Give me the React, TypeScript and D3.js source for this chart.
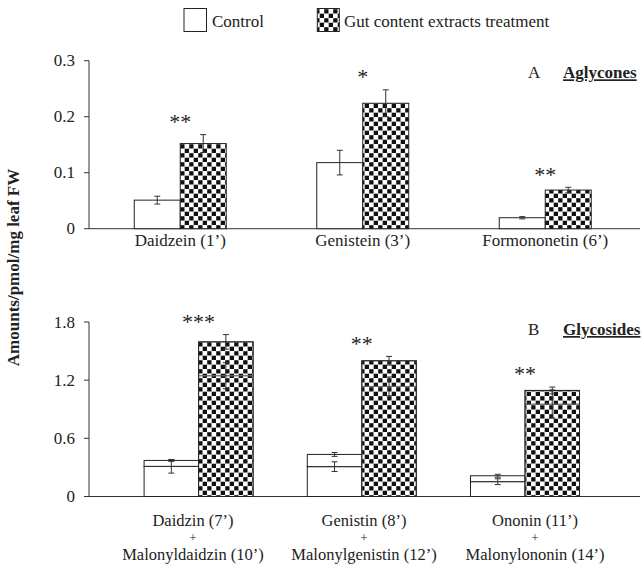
import React from 'react';
import * as d3 from 'd3';

const legendLabels = ['Control', 'Gut content extracts treatment'];

const aglyconeCats = ['Daidzein (1’)', 'Genistein (3’)', 'Formononetin (6’)'];
const aglyconeControl = [0.051, 0.118, 0.0196];
const aglyconeControlErr = [0.007, 0.022, 0.002];
const aglyconeTreat = [0.152, 0.224, 0.069];
const aglyconeTreatErr = [0.016, 0.024, 0.005];
const aglyconeStars = ['**', '*', '**'];
const aglyconeTicks = [0, 0.1, 0.2, 0.3];

const glycosideCats = ['Daidzin (7’)', 'Genistin (8’)', 'Ononin (11’)'];
const malonylCats = ['Malonyldaidzin (10’)', 'Malonylgenistin (12’)', 'Malonylononin (14’)'];
const glyControlLower = [0.311, 0.308, 0.153];
const glyControlLowerErr = [0.07, 0.05, 0.03];
const glyControlUpper = [0.061, 0.126, 0.061];
const glyControlTotalErr = [0.01, 0.02, 0.015];
const glyTreatLower = [1.246, 1.136, 0.954];
const glyTreatLowerErr = [0.134, 0.097, 0.145];
const glyTreatUpper = [0.349, 0.264, 0.14];
const glyTreatTotalErr = [0.075, 0.045, 0.035];
const glycosideStars = ['***', '**', '**'];
const glycosideTicks = [0, 0.6, 1.2, 1.8];

const FONT = '"Liberation Serif", "Times New Roman", serif';
const AXIS_X = 89;
const AXIS_END = 640;

function ErrBar({ x, y, e, scale }: { x: number; y: number; e: number; scale: d3.ScaleLinear<number, number> }) {
  const y1 = scale(y + e);
  const y2 = scale(y - e);
  return (
    <g stroke="#333" strokeWidth={1}>
      <line x1={x} x2={x} y1={y1} y2={y2} />
      <line x1={x - 3} x2={x + 3} y1={y1} y2={y1} />
      <line x1={x - 3} x2={x + 3} y1={y2} y2={y2} />
    </g>
  );
}

function YAxis({ scale, ticks, fmt }: { scale: d3.ScaleLinear<number, number>; ticks: number[]; fmt: (v: number) => string }) {
  const [d0, d1] = scale.domain();
  return (
    <g>
      <line x1={AXIS_X} x2={AXIS_X} y1={scale(d1)} y2={scale(d0)} stroke="#333" />
      <line x1={AXIS_X} x2={AXIS_END} y1={scale(d0)} y2={scale(d0)} stroke="#333" />
      {ticks.map((t) => (
        <g key={t}>
          <line x1={AXIS_X - 5} x2={AXIS_X} y1={scale(t)} y2={scale(t)} stroke="#333" />
          <text x={AXIS_X - 14} y={scale(t)} dy="0.34em" textAnchor="end" fontSize={17} fontFamily={FONT} fill="#222">
            {fmt(t)}
          </text>
        </g>
      ))}
    </g>
  );
}

export default function App() {
  const yA = d3.scaleLinear().domain([0, 0.3]).range([228.7, 60.7]);
  const xA = d3.scaleBand<string>().domain(aglyconeCats).range([89, 636.5]).paddingInner(0.496).paddingOuter(0.248);
  const bwA = xA.bandwidth() / 2;

  const yB = d3.scaleLinear().domain([0, 1.8]).range([496.5, 322]);
  const xB = d3.scaleBand<string>().domain(glycosideCats).range([117, 606.6]).paddingInner(0.332).paddingOuter(0.166);
  const bwB = xB.bandwidth() / 2;
  const labB = d3.scalePoint<string>().domain(glycosideCats).range([193, 535]);

  const fmt = (v: number) => (v === 0 ? '0' : d3.format('.1f')(v));

  return (
    <div style={{ position: 'absolute', left: 0, top: 0 }}>
      <svg width={644} height={564} style={{ display: 'block', background: '#fff' }}>
        <defs>
          <pattern id="checker" patternUnits="userSpaceOnUse" width={9} height={9}>
            <rect width={9} height={9} fill="#fff" />
            <rect x={0.2} y={0.2} width={4.3} height={4.3} fill="#111" />
            <rect x={4.7} y={4.7} width={4.3} height={4.3} fill="#111" />
          </pattern>
        </defs>

        {/* Legend */}
        <rect x={184} y={8.5} width={22.5} height={23} fill="#fff" stroke="#222" />
        <text x={212} y={27} fontSize={17} fontFamily={FONT} fill="#222">{legendLabels[0]}</text>
        <rect x={317.3} y={8.5} width={22} height={23} fill="url(#checker)" stroke="#222" />
        <text x={344} y={27} fontSize={17} fontFamily={FONT} fill="#222">{legendLabels[1]}</text>

        {/* Y title */}
        <text
          transform="translate(19,267.5) rotate(-90)"
          textAnchor="middle"
          fontSize={17}
          fontWeight="bold"
          fontFamily={FONT}
          fill="#222"
        >
          Amounts/pmol/mg leaf FW
        </text>

        {/* Panel A */}
        <YAxis scale={yA} ticks={aglyconeTicks} fmt={fmt} />
        {aglyconeCats.map((c, i) => {
          const x0 = xA(c)!;
          const cx = x0 + bwA;
          const errTop = Math.max(aglyconeTreat[i] + aglyconeTreatErr[i], aglyconeControl[i] + aglyconeControlErr[i]);
          return (
            <g key={c}>
              <rect x={x0} y={yA(aglyconeControl[i])} width={bwA} height={yA(0) - yA(aglyconeControl[i])} fill="#fff" stroke="#222" />
              <rect x={cx} y={yA(aglyconeTreat[i])} width={bwA} height={yA(0) - yA(aglyconeTreat[i])} fill="url(#checker)" stroke="#222" />
              <ErrBar x={x0 + bwA / 2} y={aglyconeControl[i]} e={aglyconeControlErr[i]} scale={yA} />
              <ErrBar x={cx + bwA / 2} y={aglyconeTreat[i]} e={aglyconeTreatErr[i]} scale={yA} />
              <text x={cx} y={yA(errTop) - 5.7} textAnchor="middle" fontSize={22} fontFamily={FONT} fill="#222">
                {aglyconeStars[i]}
              </text>
              <text x={cx} y={246} textAnchor="middle" fontSize={17} fontFamily={FONT} fill="#222">{c}</text>
            </g>
          );
        })}
        <text x={528} y={78.3} fontSize={17} fontFamily={FONT} fill="#222">A</text>
        <text x={563} y={78.3} fontSize={17} fontWeight="bold" textDecoration="underline" fontFamily={FONT} fill="#222">Aglycones</text>

        {/* Panel B */}
        <YAxis scale={yB} ticks={glycosideTicks} fmt={fmt} />
        {glycosideCats.map((c, i) => {
          const x0 = xB(c)!;
          const cx = x0 + bwB;
          const cTot = glyControlLower[i] + glyControlUpper[i];
          const tTot = glyTreatLower[i] + glyTreatUpper[i];
          const errTop = tTot + glyTreatTotalErr[i];
          const lx = labB(c)!;
          return (
            <g key={c}>
              <rect x={x0} y={yB(glyControlLower[i])} width={bwB} height={yB(0) - yB(glyControlLower[i])} fill="#fff" stroke="#222" />
              <rect x={x0} y={yB(cTot)} width={bwB} height={yB(glyControlLower[i]) - yB(cTot)} fill="#fff" stroke="#222" />
              <rect x={cx} y={yB(glyTreatLower[i])} width={bwB} height={yB(0) - yB(glyTreatLower[i])} fill="url(#checker)" stroke="#666" />
              <rect x={cx} y={yB(tTot)} width={bwB} height={yB(glyTreatLower[i]) - yB(tTot)} fill="url(#checker)" stroke="#666" />
              <rect x={cx} y={yB(tTot)} width={bwB} height={yB(0) - yB(tTot)} fill="none" stroke="#222" />
              <ErrBar x={x0 + bwB / 2} y={glyControlLower[i]} e={glyControlLowerErr[i]} scale={yB} />
              <ErrBar x={x0 + bwB / 2} y={cTot} e={glyControlTotalErr[i]} scale={yB} />
              <ErrBar x={cx + bwB / 2} y={glyTreatLower[i]} e={glyTreatLowerErr[i]} scale={yB} />
              <ErrBar x={cx + bwB / 2} y={tTot} e={glyTreatTotalErr[i]} scale={yB} />
              <text x={cx} y={yB(errTop) - 5.7} textAnchor="middle" fontSize={22} fontFamily={FONT} fill="#222">
                {glycosideStars[i]}
              </text>
              <text x={lx} y={525.5} textAnchor="middle" fontSize={16.5} fontFamily={FONT} fill="#222">{c}</text>
              <text x={lx} y={542} textAnchor="middle" fontSize={13} fontFamily={FONT} fill="#222">+</text>
              <text x={lx} y={559.5} textAnchor="middle" fontSize={16.5} fontFamily={FONT} fill="#222">{malonylCats[i]}</text>
            </g>
          );
        })}
        <text x={528} y={335} fontSize={17} fontFamily={FONT} fill="#222">B</text>
        <text x={563} y={335} fontSize={17} fontWeight="bold" textDecoration="underline" fontFamily={FONT} fill="#222">Glycosides</text>
      </svg>
    </div>
  );
}
